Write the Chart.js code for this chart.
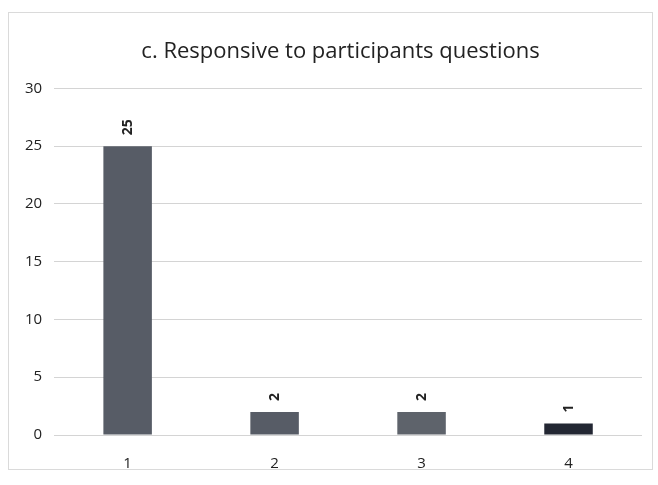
<!DOCTYPE html>
<html>
<head>
<meta charset="utf-8">
<script src="https://cdn.jsdelivr.net/npm/chart.js@4/dist/chart.umd.min.js"></script>
<style>
  html, body { margin: 0; padding: 0; background: #ffffff; }
  #wrap { position: absolute; left: 8px; top: 12px; width: 645px; height: 458px; border: 1px solid #dadada; box-sizing: border-box; }
  #holder { position: absolute; left: 0; top: 0; width: 658px; height: 485px; }
</style>
</head>
<body>
<div id="wrap"></div>
<div id="holder"><canvas id="c" width="658" height="485"></canvas></div>
<script>
const categories = ["1", "2", "3", "4"];
const values = [25, 2, 2, 1];
const yTicks = [0, 5, 10, 15, 20, 25, 30];
const barColors = ["#575c66", "#575c66", "#5e636b", "#232733"];

const labelPlugin = {
  id: "rotLabels",
  afterLayout(chart) {
    if (chart.titleBlock) {
      chart.titleBlock.left += 13;
      chart.titleBlock.right += 13;
    }
  },
  afterDatasetsDraw(chart) {
    const ctx = chart.ctx;
    const meta = chart.getDatasetMeta(0);
    ctx.save();
    ctx.fillStyle = "#222";
    ctx.font = "bold 14px 'Open Sans', sans-serif";
    ctx.textAlign = "left";
    ctx.textBaseline = "middle";
    meta.data.forEach((bar, i) => {
      ctx.save();
      ctx.translate(bar.x, bar.y - 11);
      ctx.rotate(-Math.PI / 2);
      ctx.fillText(String(values[i]), 0, 0);
      ctx.restore();
    });
    ctx.restore();
  }
};

new Chart(document.getElementById("c"), {
  type: "bar",
  data: {
    labels: categories,
    datasets: [{
      data: values,
      backgroundColor: barColors,
      borderWidth: 0,
      barPercentage: 0.33,
      categoryPercentage: 1.0
    }]
  },
  options: {
    responsive: false,
    animation: false,
    layout: { padding: { left: 13, right: 16, top: 30, bottom: 0 } },
    plugins: {
      legend: { display: false },
      tooltip: { enabled: false },
      title: {
        display: true,
        text: "c. Responsive to participants questions",
        color: "#222",
        font: { family: "'Open Sans', sans-serif", size: 22, weight: "normal" },
        padding: { top: 9, bottom: 23 }
      }
    },
    scales: {
      x: {
        grid: { display: false },
        border: { display: false },
        ticks: { color: "#222", font: { family: "'Open Sans', sans-serif", size: 15 }, padding: 12 }
      },
      y: {
        min: 0,
        max: 30,
        afterBuildTicks(axis) { axis.ticks = yTicks.map(v => ({ value: v })); },
        grid: { color: "#d4d4d4", lineWidth: 1, drawTicks: false },
        border: { display: false },
        ticks: { color: "#222", font: { family: "'Open Sans', sans-serif", size: 15 }, padding: 12 }
      }
    }
  },
  plugins: [labelPlugin]
});
</script>
</body>
</html>
